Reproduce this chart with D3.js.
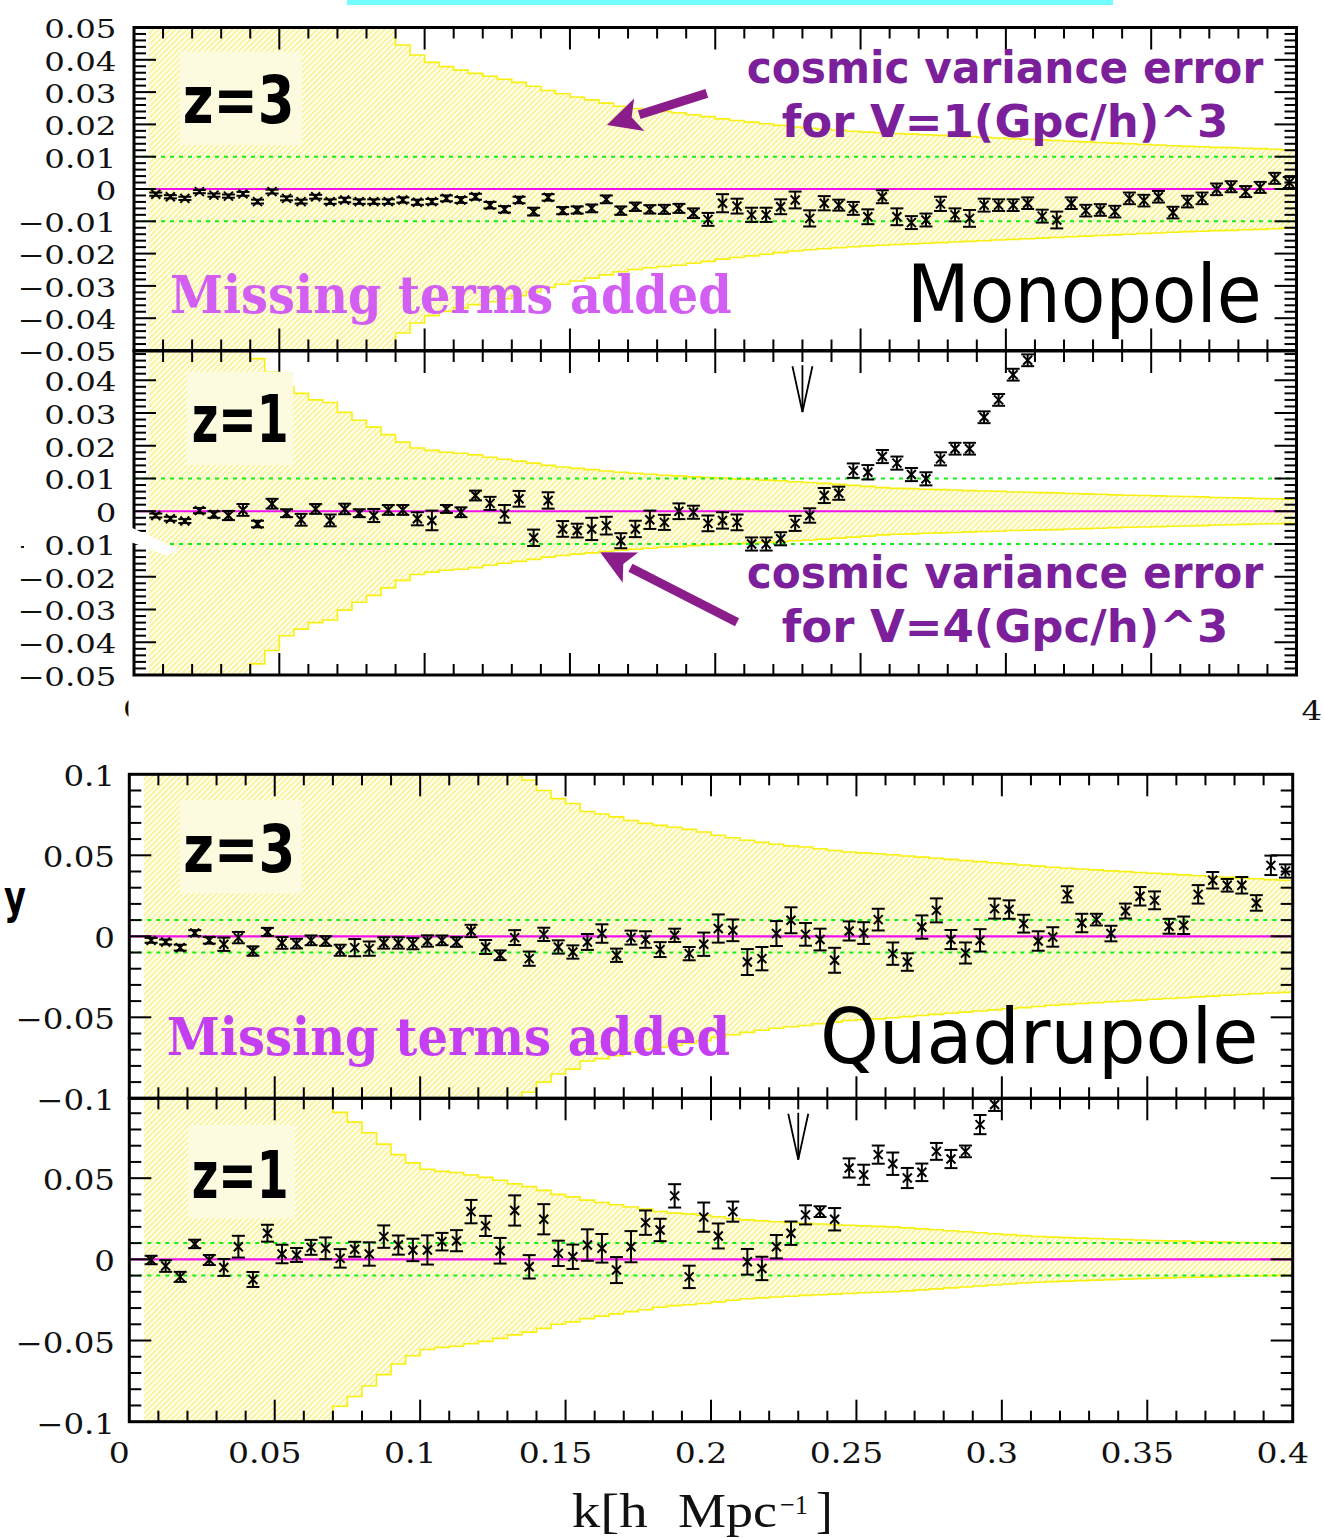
<!DOCTYPE html>
<html lang="en">
<head>
<meta charset="UTF-8">
<title>Monopole / Quadrupole</title>
<style>
  body { margin: 0; background: #fff; }
  svg { display: block; }
</style>
</head>
<body>
<svg width="1324" height="1538"></svg>
<script src="https://d3js.org/d3.v7.min.js"></script>
<script>
// bin centres in k [h/Mpc], bin width 0.005
const kBins = [0.0075,0.0125,0.0175,0.0225,0.0275,0.0325,0.0375,0.0425,0.0475,0.0525,
  0.0575,0.0625,0.0675,0.0725,0.0775,0.0825,0.0875,0.0925,0.0975,0.1025,
  0.1075,0.1125,0.1175,0.1225,0.1275,0.1325,0.1375,0.1425,0.1475,0.1525,
  0.1575,0.1625,0.1675,0.1725,0.1775,0.1825,0.1875,0.1925,0.1975,0.2025,
  0.2075,0.2125,0.2175,0.2225,0.2275,0.2325,0.2375,0.2425,0.2475,0.2525,
  0.2575,0.2625,0.2675,0.2725,0.2775,0.2825,0.2875,0.2925,0.2975,0.3025,
  0.3075,0.3125,0.3175,0.3225,0.3275,0.3325,0.3375,0.3425,0.3475,0.3525,
  0.3575,0.3625,0.3675,0.3725,0.3775,0.3825,0.3875,0.3925,0.3975];
const binWidth = 0.005;

// monopole, z=3
const monoZ3 = [-0.0016,-0.0024,-0.0029,-0.0008,-0.0019,-0.0022,-0.0015,-0.0039,-0.0008,-0.0029,
  -0.0039,-0.0024,-0.0039,-0.0034,-0.0039,-0.0039,-0.0039,-0.0034,-0.0041,-0.0039,
  -0.0029,-0.0034,-0.0024,-0.0050,-0.0063,-0.0034,-0.0070,-0.0026,-0.0067,-0.0065,
  -0.0060,-0.0032,-0.0067,-0.0055,-0.0063,-0.0063,-0.0060,-0.0075,-0.0094,-0.0044,
  -0.0053,-0.0080,-0.0080,-0.0055,-0.0034,-0.0091,-0.0044,-0.0050,-0.0060,-0.0086,
  -0.0024,-0.0086,-0.0104,-0.0096,-0.0046,-0.0080,-0.0091,-0.0050,-0.0050,-0.0050,
  -0.0044,-0.0084,-0.0096,-0.0044,-0.0067,-0.0065,-0.0070,-0.0029,-0.0036,-0.0024,
  -0.0073,-0.0039,-0.0029,-0.0001,0.0007,-0.0008,0.0005,0.0033,0.0020];
const monoZ3Err = [0.0005,0.0005,0.0005,0.0005,0.0005,0.0005,0.0006,0.0006,0.0006,0.0006,
  0.0006,0.0006,0.0007,0.0007,0.0007,0.0007,0.0007,0.0008,0.0008,0.0008,
  0.0009,0.0009,0.0009,0.0010,0.0010,0.0010,0.0012,0.0010,0.0011,0.0011,
  0.0012,0.0012,0.0013,0.0013,0.0013,0.0014,0.0014,0.0015,0.0020,0.0028,
  0.0023,0.0022,0.0022,0.0023,0.0026,0.0025,0.0022,0.0017,0.0020,0.0023,
  0.0020,0.0026,0.0020,0.0020,0.0022,0.0020,0.0026,0.0020,0.0018,0.0018,
  0.0018,0.0020,0.0026,0.0018,0.0018,0.0018,0.0018,0.0018,0.0018,0.0018,
  0.0018,0.0018,0.0018,0.0018,0.0017,0.0017,0.0017,0.0017,0.0017];
const monoZ3Band = [0.05,0.05,0.05,0.05,0.05,0.05,0.05,0.05,0.05,0.05,
  0.05,0.05,0.05,0.05,0.05,0.05,0.05,0.0446,0.0415,0.0392,
  0.0379,0.0368,0.0358,0.0349,0.0340,0.0330,0.0318,0.0305,0.0295,0.0285,
  0.0276,0.0266,0.0256,0.0249,0.0244,0.0240,0.0236,0.0230,0.0224,0.0217,
  0.0212,0.0207,0.0202,0.0197,0.0192,0.0188,0.0185,0.0182,0.0179,0.0176,
  0.0174,0.0172,0.0170,0.0168,0.0166,0.0164,0.0162,0.0160,0.0158,0.0156,
  0.0154,0.0152,0.0150,0.0148,0.0146,0.0144,0.0142,0.0140,0.0138,0.0136,
  0.0134,0.0132,0.0131,0.0129,0.0128,0.0126,0.0125,0.0123,0.0121];

// monopole, z=1 (points above 0.05 are off the panel)
const monoZ1 = [-0.0013,-0.0023,-0.0030,0.0002,-0.0010,-0.0013,0.0004,-0.0039,0.0023,-0.0006,
  -0.0026,0.0007,-0.0028,0.0007,-0.0006,-0.0013,0.0004,0.0004,-0.0023,-0.0028,
  0.0007,-0.0003,0.0048,0.0024,-0.0008,0.0038,-0.0081,0.0033,-0.0054,-0.0059,
  -0.0054,-0.0044,-0.0090,-0.0054,-0.0026,-0.0034,0.0000,-0.0003,-0.0037,-0.0028,
  -0.0034,-0.0100,-0.0100,-0.0084,-0.0037,-0.0013,0.0048,0.0055,0.0124,0.0119,
  0.0167,0.0147,0.0112,0.0099,0.0160,0.0191,0.0191,0.0287,0.0340,0.0417,
  0.0461,null,null,null,null,null,null,null,null,null,
  null,null,null,null,null,null,null,null,null];
const monoZ1Err = [0.0006,0.0006,0.0006,0.0008,0.0010,0.0014,0.0018,0.0010,0.0015,0.0012,
  0.0018,0.0015,0.0018,0.0016,0.0012,0.0020,0.0015,0.0015,0.0020,0.0030,
  0.0012,0.0015,0.0015,0.0020,0.0027,0.0024,0.0025,0.0025,0.0024,0.0021,
  0.0034,0.0027,0.0023,0.0025,0.0028,0.0023,0.0024,0.0020,0.0024,0.0025,
  0.0024,0.0020,0.0020,0.0020,0.0023,0.0022,0.0023,0.0020,0.0022,0.0022,
  0.0020,0.0020,0.0020,0.0020,0.0020,0.0018,0.0018,0.0018,0.0018,0.0018,
  0.0018,null,null,null,null,null,null,null,null,null,
  null,null,null,null,null,null,null,null,null];
const monoZ1Band = [0.05,0.05,0.05,0.05,0.05,0.05,0.05,0.0466,0.0425,0.0380,
  0.0360,0.0340,0.0332,0.0302,0.0278,0.0257,0.0234,0.0211,0.0193,0.0186,
  0.0180,0.0177,0.0172,0.0165,0.0159,0.0153,0.0147,0.0140,0.0135,0.0131,
  0.0127,0.0123,0.0119,0.0116,0.0113,0.0110,0.0108,0.0105,0.0103,0.0101,
  0.0099,0.0097,0.0095,0.0093,0.0090,0.0088,0.0085,0.0082,0.0079,0.0076,
  0.0072,0.0070,0.0069,0.0067,0.0066,0.0065,0.0063,0.0062,0.0061,0.0059,
  0.0058,0.0057,0.0056,0.0054,0.0053,0.0052,0.0050,0.0049,0.0048,0.0047,
  0.0046,0.0045,0.0044,0.0042,0.0041,0.0040,0.0039,0.0038,0.0037];

// quadrupole, z=3
const quadZ3 = [-0.0025,-0.0035,-0.0070,0.0020,-0.0025,-0.0049,-0.0008,-0.0091,0.0027,-0.0041,
  -0.0045,-0.0025,-0.0029,-0.0086,-0.0070,-0.0076,-0.0041,-0.0041,-0.0045,-0.0029,
  -0.0025,-0.0035,0.0033,-0.0066,-0.0117,-0.0008,-0.0138,0.0012,-0.0066,-0.0097,
  -0.0035,0.0017,-0.0117,-0.0008,-0.0020,-0.0082,0.0006,-0.0107,-0.0049,0.0048,
  0.0037,-0.0159,-0.0138,0.0017,0.0099,0.0012,-0.0020,-0.0148,0.0033,0.0020,
  0.0103,-0.0107,-0.0159,0.0057,0.0160,-0.0020,-0.0103,-0.0025,0.0171,0.0165,
  0.0078,-0.0029,-0.0004,0.0259,0.0082,0.0103,0.0017,0.0156,0.0247,0.0222,
  0.0062,0.0068,0.0259,0.0346,0.0315,0.0315,0.0206,0.0438,0.0403];
const quadZ3Err = [0.0015,0.0015,0.0018,0.0018,0.0020,0.0041,0.0035,0.0029,0.0025,0.0036,
  0.0030,0.0030,0.0030,0.0034,0.0053,0.0044,0.0035,0.0035,0.0035,0.0035,
  0.0030,0.0030,0.0038,0.0043,0.0030,0.0046,0.0044,0.0041,0.0041,0.0041,
  0.0049,0.0057,0.0041,0.0043,0.0051,0.0046,0.0041,0.0041,0.0072,0.0087,
  0.0067,0.0080,0.0072,0.0077,0.0080,0.0070,0.0067,0.0077,0.0059,0.0067,
  0.0067,0.0069,0.0054,0.0072,0.0074,0.0059,0.0065,0.0069,0.0062,0.0057,
  0.0055,0.0060,0.0060,0.0050,0.0057,0.0036,0.0048,0.0046,0.0057,0.0055,
  0.0046,0.0054,0.0057,0.0051,0.0039,0.0051,0.0048,0.0060,0.0041];
const quadZ3Band = [0.1,0.1,0.1,0.1,0.1,0.1,0.1,0.1,0.1,0.1,
  0.1,0.1,0.1,0.1,0.1,0.1,0.1,0.1,0.1,0.1,
  0.1,0.1,0.1,0.1,0.1,0.1,0.0963,0.0900,0.0850,0.0820,
  0.0770,0.0755,0.0737,0.0715,0.0697,0.0685,0.0673,0.0660,0.0644,0.0624,
  0.0608,0.0593,0.0580,0.0568,0.0558,0.0551,0.0540,0.0530,0.0520,0.0515,
  0.0510,0.0503,0.0496,0.0489,0.0482,0.0475,0.0468,0.0461,0.0454,0.0447,
  0.0440,0.0433,0.0426,0.0420,0.0415,0.0410,0.0404,0.0399,0.0394,0.0389,
  0.0384,0.0379,0.0374,0.0369,0.0364,0.0359,0.0355,0.0350,0.0346];

// quadrupole, z=1 (points above 0.1 are off the panel)
const quadZ1 = [-0.0004,-0.0041,-0.0108,0.0095,-0.0004,-0.0050,0.0078,-0.0124,0.0161,0.0033,
  0.0027,0.0074,0.0068,0.0006,0.0062,0.0033,0.0140,0.0088,0.0058,0.0058,
  0.0109,0.0115,0.0294,0.0206,0.0053,0.0301,-0.0046,0.0247,0.0037,0.0016,
  0.0088,0.0068,-0.0066,0.0078,0.0226,0.0181,0.0391,-0.0108,0.0260,0.0144,
  0.0294,-0.0015,-0.0056,0.0078,0.0161,0.0274,0.0294,0.0247,0.0563,0.0521,
  0.0645,0.0589,0.0501,0.0536,0.0665,0.0618,0.0665,0.0830,0.0954,null,
  null,null,null,null,null,null,null,null,null,null,
  null,null,null,null,null,null,null,null,null];
const quadZ1Err = [0.0026,0.0036,0.0031,0.0026,0.0031,0.0052,0.0067,0.0046,0.0052,0.0057,
  0.0043,0.0046,0.0067,0.0057,0.0046,0.0072,0.0069,0.0059,0.0069,0.0090,
  0.0054,0.0065,0.0072,0.0062,0.0079,0.0093,0.0072,0.0093,0.0078,0.0075,
  0.0097,0.0088,0.0080,0.0096,0.0075,0.0069,0.0072,0.0069,0.0090,0.0077,
  0.0062,0.0079,0.0072,0.0072,0.0072,0.0059,0.0033,0.0069,0.0059,0.0062,
  0.0056,0.0069,0.0062,0.0054,0.0052,0.0056,0.0036,0.0059,0.0040,null,
  null,null,null,null,null,null,null,null,null,null,
  null,null,null,null,null,null,null,null,null];
const quadZ1Band = [0.1,0.1,0.1,0.1,0.1,0.1,0.1,0.1,0.1,0.1,
  0.1,0.1,0.1,0.0905,0.0845,0.0780,0.0710,0.0645,0.0594,0.0555,
  0.0542,0.0535,0.0520,0.0505,0.0487,0.0465,0.0448,0.0425,0.0400,0.0385,
  0.0365,0.0350,0.0336,0.0322,0.0310,0.0295,0.0285,0.0280,0.0272,0.0262,
  0.0252,0.0243,0.0237,0.0232,0.0227,0.0222,0.0218,0.0214,0.0210,0.0206,
  0.0203,0.0200,0.0194,0.0188,0.0182,0.0176,0.0170,0.0164,0.0158,0.0152,
  0.0146,0.0141,0.0137,0.0134,0.0131,0.0128,0.0125,0.0122,0.0119,0.0116,
  0.0114,0.0112,0.0110,0.0108,0.0106,0.0104,0.0102,0.0100,0.0099];

const refLines = [-0.01, 0.01];
const xTickLabels = [0, 0.05, 0.1, 0.15, 0.2, 0.25, 0.3, 0.35, 0.4];
const scaleArrowK = 0.23;

const svg = d3.select("svg");
const defs = svg.append("defs");

// yellow hatching for the cosmic variance band
const pat = defs.append("pattern").attr("id", "hatch")
  .attr("patternUnits", "userSpaceOnUse")
  .attr("width", 4).attr("height", 4)
  .attr("patternTransform", "rotate(45)");
pat.append("rect").attr("width", 4).attr("height", 4).attr("fill", "#fffff4");
pat.append("line").attr("x1", 1).attr("y1", 0).attr("x2", 1).attr("y2", 4)
  .attr("stroke", "#f6ea58").attr("stroke-width", 1.1);

const xTop = d3.scaleLinear([0, 0.4], [134, 1296.5]);
const xBot = d3.scaleLinear([0, 0.4], [129.3, 1292.7]);

const panels = [
  { id: "p1", x: xTop, y: d3.scaleLinear([-0.05, 0.05], [350.5, 27.5]), top: 27.5, bottom: 350.5,
    vals: monoZ3, errs: monoZ3Err, band: monoZ3Band, major: 0.01, minor: 0.002,
    labels: [0.05, 0.04, 0.03, 0.02, 0.01, 0, -0.01, -0.02, -0.03, -0.04, -0.05], fs: 25.5, stretch: 1.27, labelRight: 116.5 },
  { id: "p2", x: xTop, y: d3.scaleLinear([-0.05, 0.05], [675, 347.5]), top: 351, bottom: 675,
    vals: monoZ1, errs: monoZ1Err, band: monoZ1Band, major: 0.01, minor: 0.002,
    labels: [0.04, 0.03, 0.02, 0.01, 0, -0.01, -0.02, -0.03, -0.04, -0.05], fs: 25.5, stretch: 1.27, labelRight: 116.5 },
  { id: "p3", x: xBot, y: d3.scaleLinear([-0.1, 0.1], [1098.3, 774.3]), top: 774.3, bottom: 1098.3,
    vals: quadZ3, errs: quadZ3Err, band: quadZ3Band, major: 0.05, minor: 0.01,
    labels: [0.1, 0.05, 0, -0.05, -0.1], fs: 27.5, stretch: 1.18, labelRight: 115 },
  { id: "p4", x: xBot, y: d3.scaleLinear([-0.1, 0.1], [1421.7, 1097]), top: 1098.3, bottom: 1421.7,
    vals: quadZ1, errs: quadZ1Err, band: quadZ1Band, major: 0.05, minor: 0.01,
    labels: [0.05, 0, -0.05, -0.1], fs: 27.5, stretch: 1.18, labelRight: 115 }
];

const fmt = v => Math.abs(v) < 1e-9 ? "0" : (v < 0 ? "\u2212" : "") + String(+Math.abs(v).toFixed(2));

// stretched serif text, anchored at its right edge or centre
function serifLabel(g, str, x, y, fs, stretch, anchor) {
  const t = g.append("text").attr("y", y)
    .attr("font-family", "DejaVu Serif").attr("font-size", fs).attr("fill", "#111").text(str);
  const L = t.node().getComputedTextLength() * stretch;
  const left = anchor === "end" ? x - L : anchor === "middle" ? x - L / 2 : x;
  t.attr("x", left).attr("textLength", L).attr("lengthAdjust", "spacingAndGlyphs");
  return t;
}

const layerBand = svg.append("g");
const layerLines = svg.append("g");
const layerAxes = svg.append("g");
const layerPts = svg.append("g");
const layerNotes = svg.append("g");

panels.forEach(p => {
  const x = p.x, y = p.y;
  const x0 = x(0), x1 = x(0.4);
  defs.append("clipPath").attr("id", "clip-" + p.id)
    .append("rect").attr("x", x0).attr("y", p.top).attr("width", x1 - x0).attr("height", p.bottom - p.top);

  // band as a step function over the k bins
  const steps = kBins.map((k, i) => ({ k: k - binWidth / 2, b: p.band[i] }));
  steps.push({ k: 0.4, b: p.band[p.band.length - 1] });
  const gb = layerBand.append("g").attr("clip-path", `url(#clip-${p.id})`);
  gb.append("path").datum(steps)
    .attr("d", d3.area().x(d => x(d.k)).y0(d => y(-d.b)).y1(d => y(d.b)).curve(d3.curveStepAfter))
    .attr("fill", "url(#hatch)");
  [1, -1].forEach(s => {
    gb.append("path").datum(steps)
      .attr("d", d3.line().x(d => x(d.k)).y(d => y(s * d.b)).curve(d3.curveStepAfter))
      .attr("fill", "none").attr("stroke", "#f8f010").attr("stroke-width", 1.6);
  });

  // reference lines
  layerLines.selectAll(null).data(refLines).join("line")
    .attr("x1", x0).attr("x2", x1).attr("y1", d => y(d)).attr("y2", d => y(d))
    .attr("stroke", "#14ee14").attr("stroke-width", 2).attr("stroke-dasharray", "4,5");
  layerLines.append("line").attr("x1", x0).attr("x2", x1).attr("y1", y(0)).attr("y2", y(0))
    .attr("stroke", "#f010f0").attr("stroke-width", 2.2);

  // frame
  const ga = layerAxes.append("g").attr("stroke", "#000").attr("fill", "none");
  ga.append("rect").attr("x", x0).attr("y", p.top).attr("width", x1 - x0).attr("height", p.bottom - p.top)
    .attr("stroke-width", 3);

  // x ticks on top and bottom edges
  const xt = d3.range(1, 40).map(i => i * 0.01);
  xt.forEach(k => {
    const isMaj = Math.abs(k / 0.05 - Math.round(k / 0.05)) < 1e-6;
    const len = isMaj ? 22 : 11;
    ga.append("line").attr("x1", x(k)).attr("x2", x(k)).attr("y1", p.top).attr("y2", p.top + len).attr("stroke-width", 2);
    ga.append("line").attr("x1", x(k)).attr("x2", x(k)).attr("y1", p.bottom).attr("y2", p.bottom - len).attr("stroke-width", 2);
  });

  // y ticks on left and right edges
  const [lo, hi] = y.domain();
  const n = Math.round((hi - lo) / p.minor);
  d3.range(0, n + 1).map(i => lo + i * p.minor).forEach(v => {
    const yy = y(v);
    if (yy < p.top + 1 || yy > p.bottom - 1) return;
    const isMaj = Math.abs(v / p.major - Math.round(v / p.major)) < 1e-6;
    const len = isMaj ? 22 : 12;
    ga.append("line").attr("x1", x0).attr("x2", x0 + len).attr("y1", yy).attr("y2", yy).attr("stroke-width", 2);
    ga.append("line").attr("x1", x1).attr("x2", x1 - len).attr("y1", yy).attr("y2", yy).attr("stroke-width", 2);
  });

  // y tick labels
  p.labels.forEach(v => serifLabel(layerAxes, fmt(v), p.labelRight, y(v) + (p.fs > 26 ? 12 : 10.8), p.fs, p.stretch, "end"));

  // data points with error bars
  const pts = kBins.map((k, i) => ({ k, v: p.vals[i], e: p.errs[i] })).filter(d => d.v !== null);
  const gp = layerPts.append("g").attr("stroke", "#000").attr("stroke-width", 2).attr("fill", "none");
  const pt = gp.selectAll("g").data(pts).join("g");
  pt.append("line").attr("x1", d => x(d.k)).attr("x2", d => x(d.k))
    .attr("y1", d => y(d.v - d.e)).attr("y2", d => y(d.v + d.e));
  [1, -1].forEach(s => {
    pt.append("line").attr("x1", d => x(d.k) - 6.5).attr("x2", d => x(d.k) + 6.5)
      .attr("y1", d => y(d.v + s * d.e)).attr("y2", d => y(d.v + s * d.e));
    pt.append("line").attr("x1", d => x(d.k) - 4.5).attr("x2", d => x(d.k) + 4.5)
      .attr("y1", d => y(d.v) - 4.5 * s).attr("y2", d => y(d.v) + 4.5 * s);
  });
});

// x tick labels of the lower figure
xTickLabels.forEach(k => serifLabel(layerAxes, String(k), xBot(k) - 10, 1463.3, 27.5, 1.2, "middle"));

// remnants of the upper figure's x labels, mostly cut away
defs.append("clipPath").attr("id", "clipL").append("rect").attr("x", 110).attr("y", 690).attr("width", 18.5).attr("height", 40);
defs.append("clipPath").attr("id", "clipR").append("rect").attr("x", 1301).attr("y", 690).attr("width", 30).attr("height", 40);
serifLabel(layerAxes.append("g").attr("clip-path", "url(#clipL)"), "0", 123, 718, 25.5, 1.27, "start");
serifLabel(layerAxes.append("g").attr("clip-path", "url(#clipR)"), "0.4", 1322, 720, 25.5, 1.27, "end");

// axis title
const kt = layerAxes.append("g").attr("font-family", "Liberation Serif").attr("fill", "#111");
kt.append("text").attr("x", 571.7).attr("y", 1526.7).attr("font-size", 48)
  .attr("textLength", 76).attr("lengthAdjust", "spacingAndGlyphs").text("k[h");
kt.append("text").attr("x", 678).attr("y", 1526.7).attr("font-size", 48)
  .attr("textLength", 99).attr("lengthAdjust", "spacingAndGlyphs").text("Mpc");
kt.append("text").attr("x", 780).attr("y", 1514).attr("font-size", 28)
  .attr("textLength", 28).attr("lengthAdjust", "spacingAndGlyphs").text("\u22121");
kt.append("text").attr("x", 816).attr("y", 1526.7).attr("font-size", 50).text("]");

// thin scale arrows at k = 0.23
[{ p: panels[1], from: 0.0446, to: 0.0303 }, { p: panels[3], from: 0.0903, to: 0.0614 }].forEach(a => {
  const xx = a.p.x(scaleArrowK), y0 = a.p.y(a.from), y1 = a.p.y(a.to);
  const g = layerNotes.append("g").attr("stroke", "#000").attr("stroke-width", 1.8).attr("fill", "none");
  g.append("line").attr("x1", xx).attr("x2", xx).attr("y1", y0).attr("y2", y1);
  g.append("path").attr("d", `M${xx - 10},${y0 + 1}L${xx},${y1}L${xx + 10},${y0 + 1}`);
});

// purple annotation arrows, in data coordinates
[{ p: panels[0], k0: 0.1971, v0: 0.0296, k1: 0.1627, v1: 0.0198 },
 { p: panels[1], k0: 0.2075, v0: -0.0339, k1: 0.1604, v1: -0.0125 }].forEach(a => {
  const tx = a.p.x(a.k0), ty = a.p.y(a.v0), hx = a.p.x(a.k1), hy = a.p.y(a.v1);
  const dx = tx - hx, dy = ty - hy, L = Math.hypot(dx, dy), ux = dx / L, uy = dy / L;
  const bx = hx + ux * 34, by = hy + uy * 34;
  layerNotes.append("line").attr("x1", tx).attr("y1", ty).attr("x2", bx).attr("y2", by)
    .attr("stroke", "#8b1d8b").attr("stroke-width", 9);
  layerNotes.append("path")
    .attr("d", `M${hx},${hy}L${bx - uy * 17},${by + ux * 17}L${hx + ux * 26},${hy + uy * 26}L${bx + uy * 17},${by - ux * 17}Z`)
    .attr("fill", "#8b1d8b");
});

// redshift boxes
[{ x: 180, y: 51.7, w: 122, h: 93.3, t: "z=3", tx: 182.7, ty: 123.3, tl: 112 },
 { x: 186.7, y: 371.7, w: 106.6, h: 93.3, t: "z=1", tx: 191.7, ty: 441.7, tl: 97 },
 { x: 180, y: 800, w: 122, h: 93.3, t: "z=3", tx: 183.3, ty: 871.7, tl: 112 },
 { x: 188.3, y: 1125, w: 106.7, h: 93.3, t: "z=1", tx: 191.7, ty: 1198.3, tl: 97 }].forEach(b => {
  layerNotes.append("rect").attr("x", b.x).attr("y", b.y).attr("width", b.w).attr("height", b.h).attr("fill", "#fdfbdf");
  layerNotes.append("text").attr("x", b.tx).attr("y", b.ty).attr("font-family", "DejaVu Sans").attr("font-weight", "bold")
    .attr("font-size", 65).attr("textLength", b.tl).attr("lengthAdjust", "spacingAndGlyphs").attr("fill", "#000").text(b.t);
});

function note(str, x, y, fs, len, opts) {
  return layerNotes.append("text").attr("x", x).attr("y", y).attr("font-size", fs)
    .attr("font-family", opts.family).attr("font-weight", opts.weight || "normal").attr("fill", opts.fill)
    .attr("textLength", len).attr("lengthAdjust", "spacingAndGlyphs").text(str);
}
const purple = { family: "DejaVu Sans", weight: "bold", fill: "#7b1f9b" };
note("cosmic variance error", 746.7, 83.3, 45, 516.6, purple);
note("for V=1(Gpc/h)^3", 781.7, 136.7, 45, 446.6, purple);
note("cosmic variance error", 746.7, 588.3, 45, 516.6, purple);
note("for V=4(Gpc/h)^3", 781.7, 641.7, 45, 446.6, purple);
note("Missing terms added", 170, 313.3, 52, 561.7, { family: "DejaVu Serif", weight: "bold", fill: "#d25ef4" });
note("Missing terms added", 166.7, 1055, 52, 563.3, { family: "DejaVu Serif", weight: "bold", fill: "#c43ef3" });
note("Monopole", 906.7, 321.7, 80, 355, { family: "DejaVu Sans", fill: "#000" });
note("Quadrupole", 820, 1063.3, 76, 438.3, { family: "DejaVu Sans", fill: "#000" });
note("y", 4, 912.5, 46, 22, { family: "DejaVu Sans", weight: "bold", fill: "#000" });

// cyan strip at the top and the white scratch over the z=1 monopole axis
svg.append("rect").attr("x", 347).attr("y", 0).attr("width", 766).attr("height", 5).attr("fill", "#72ffff");
svg.append("path").attr("d", "M128,526L178,549L168,556L128,541Z").attr("fill", "#fff");
svg.append("rect").attr("x", 24).attr("y", 539).attr("width", 20).attr("height", 10).attr("fill", "#fff");
</script>
</body>
</html>
